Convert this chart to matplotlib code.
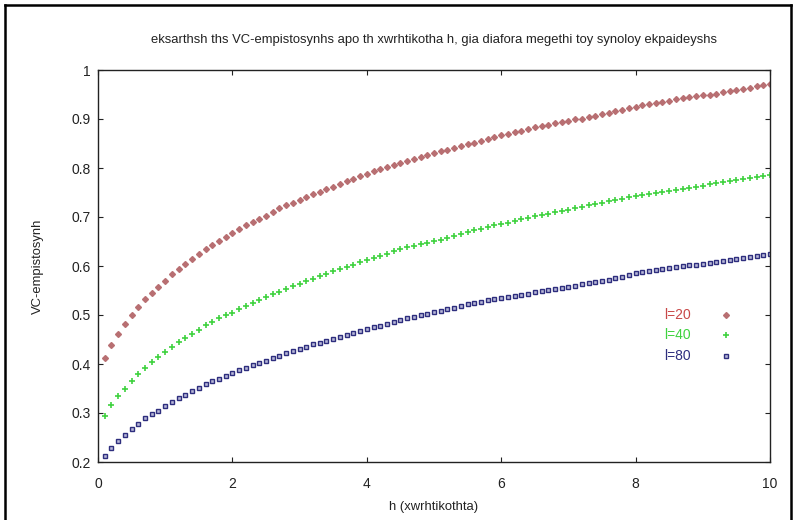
import numpy as np
import matplotlib
matplotlib.use('Agg')
import matplotlib.pyplot as plt
from matplotlib.lines import Line2D

plt.rcParams['font.family'] = ['Liberation Sans', 'DejaVu Sans']

# h from 0.1 to 10.0
h = np.round(np.arange(1, 101) * 0.1, 1)

vc_l20 = [0.412, 0.438, 0.461, 0.482, 0.499, 0.517, 0.532, 0.545, 0.557, 0.570,
          0.583, 0.594, 0.604, 0.615, 0.624, 0.634, 0.643, 0.651, 0.660, 0.667,
          0.675, 0.683, 0.690, 0.696, 0.703, 0.711, 0.718, 0.724, 0.729, 0.735,
          0.741, 0.747, 0.752, 0.758, 0.762, 0.767, 0.773, 0.777, 0.783,
          0.788, 0.793, 0.797, 0.802, 0.806, 0.811, 0.815, 0.819, 0.822, 0.826,
          0.830, 0.834, 0.837, 0.841, 0.845, 0.849, 0.852, 0.856, 0.860, 0.864,
          0.867, 0.870, 0.873, 0.876, 0.879, 0.883, 0.886, 0.888, 0.891, 0.894,
          0.896, 0.899, 0.901, 0.904, 0.907, 0.910, 0.913, 0.916, 0.919, 0.922,
          0.925, 0.928, 0.931, 0.933, 0.935, 0.937, 0.940, 0.942, 0.944, 0.947,
          0.949, 0.950, 0.952, 0.955, 0.957, 0.960, 0.962, 0.964, 0.967, 0.969, 0.971]

vc_l40 = [0.294, 0.316, 0.335, 0.350, 0.365, 0.380, 0.391, 0.404, 0.414, 0.425,
          0.434, 0.444, 0.453, 0.461, 0.470, 0.479, 0.485, 0.493, 0.500, 0.505,
          0.513, 0.519, 0.525, 0.531, 0.536, 0.542, 0.547, 0.554, 0.559, 0.564,
          0.569, 0.574, 0.579, 0.583, 0.589, 0.593, 0.598, 0.602, 0.608,
          0.612, 0.617, 0.620, 0.625, 0.630, 0.634, 0.638, 0.641, 0.644, 0.647,
          0.651, 0.654, 0.658, 0.662, 0.666, 0.670, 0.673, 0.676, 0.679, 0.683,
          0.686, 0.688, 0.691, 0.695, 0.698, 0.702, 0.704, 0.707, 0.710, 0.713,
          0.715, 0.718, 0.721, 0.724, 0.726, 0.729, 0.732, 0.734, 0.737, 0.740,
          0.742, 0.744, 0.747, 0.749, 0.751, 0.753, 0.756, 0.758, 0.760, 0.762,
          0.764, 0.767, 0.769, 0.771, 0.773, 0.775, 0.777, 0.779, 0.781, 0.783, 0.786]

vc_l80 = [0.212, 0.229, 0.243, 0.256, 0.267, 0.278, 0.289, 0.297, 0.305, 0.314,
          0.322, 0.330, 0.337, 0.344, 0.352, 0.359, 0.365, 0.370, 0.376, 0.382,
          0.387, 0.392, 0.397, 0.403, 0.407, 0.412, 0.417, 0.422, 0.426, 0.430,
          0.435, 0.440, 0.443, 0.447, 0.451, 0.456, 0.459, 0.463, 0.468,
          0.472, 0.475, 0.478, 0.482, 0.485, 0.489, 0.493, 0.496, 0.500, 0.503,
          0.506, 0.509, 0.512, 0.515, 0.518, 0.522, 0.524, 0.527, 0.530, 0.532,
          0.534, 0.536, 0.538, 0.541, 0.543, 0.546, 0.549, 0.551, 0.553, 0.555,
          0.557, 0.560, 0.563, 0.565, 0.568, 0.570, 0.572, 0.575, 0.577, 0.581,
          0.585, 0.588, 0.589, 0.591, 0.594, 0.596, 0.598, 0.599, 0.602, 0.603,
          0.605, 0.607, 0.609, 0.611, 0.613, 0.615, 0.617, 0.618, 0.620, 0.622, 0.624]

labels = ['l=20', 'l=40', 'l=80']
x_ticks = [0, 2, 4, 6, 8, 10]
y_ticks = [0.2, 0.3, 0.4, 0.5, 0.6, 0.7, 0.8, 0.9, 1]

W, H = 795, 520
fig = plt.figure(figsize=(W / 100, H / 100), dpi=100)
ax = fig.add_axes([98 / W, 1 - 462 / H, 672 / W, 392 / H])

red, green, blue = '#b86f72', '#3fd23f', '#2e2e7e'
sq_face = '#b8b8d8'
ax.plot(h, vc_l20, ls='none', marker='D', ms=3.0, color=red, mec=red)
ax.plot(h, vc_l40, ls='none', marker='+', ms=4.5, mew=1.2, color=green)
ax.plot(h, vc_l80, ls='none', marker='s', ms=3.2, mfc=sq_face, mec=blue, mew=1.0)

ax.set_xlim(0, 10)
ax.set_ylim(0.2, 1)
ax.set_xticks(x_ticks)
ax.set_yticks(y_ticks)
ax.set_yticklabels([f'{v:g}' for v in y_ticks])
ax.tick_params(direction='in', length=3.5, width=0.8, top=True, right=True,
               labelsize=10, colors='#222222')
ax.tick_params(axis='x', pad=11)
ax.tick_params(axis='y', pad=5)
for s in ax.spines.values():
    s.set_linewidth(1.0)
    s.set_color('#222222')

# legend as in gnuplot: label text right aligned, sample marker to the right
leg_y = [315, 335, 356]
leg_cols = ['#c84848', '#3fd23f', '#2e2e7e']
for lab, yy, col in zip(labels, leg_y, leg_cols):
    fig.text(691 / W, 1 - yy / H, lab, ha='right', va='center', fontsize=10, color=col)
fig.add_artist(Line2D([726 / W], [1 - 315 / H], marker='D', ms=3.0, color=red, ls='none'))
fig.add_artist(Line2D([726 / W], [1 - 335 / H], marker='+', ms=4.5, mew=1.2, color=green, ls='none'))
fig.add_artist(Line2D([726 / W], [1 - 356 / H], marker='s', ms=3.2, mfc=sq_face,
                      mec=blue, mew=1.0, ls='none'))

fig.text(434 / W, 1 - 40 / H,
         'eksarthsh ths VC-empistosynhs apo th xwrhtikotha h, gia diafora megethi toy synoloy ekpaideyshs',
         ha='center', va='center', fontsize=9.4, color='#222222')
fig.text(434 / W, 1 - 507 / H, 'h (xwrhtikothta)', ha='center', va='center',
         fontsize=9.4, color='#222222')
fig.text(38 / W, 1 - 266 / H, 'VC-empistosynh', ha='center', va='center',
         rotation=90, fontsize=9.4, color='#222222')

# outer black frame of the screenshot
for xs, ys in [([5, 5], [5, H + 5]), ([5, 791], [5, 5]), ([791, 791], [5, H + 5])]:
    fig.add_artist(Line2D([x / W for x in xs], [1 - y / H for y in ys],
                          color='black', lw=1.8))

fig.savefig('out.png', dpi=100)
